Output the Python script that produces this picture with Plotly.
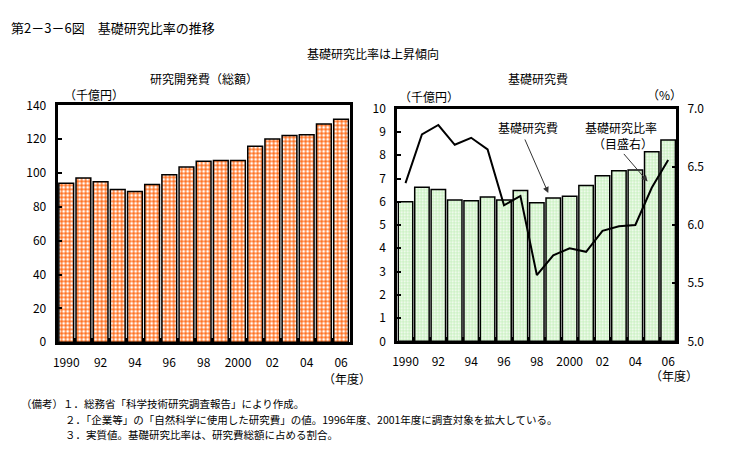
import plotly.graph_objects as go

years = list(range(1990, 2007))
year_labels = ["1990", "92", "94", "96", "98", "2000", "02", "04", "06"]
year_label_vals = list(range(1990, 2007, 2))

rd_total = [93.9, 97.1, 94.8, 90.3, 89.1, 93.3, 99.0, 103.6, 107.0, 107.4, 107.4,
            115.9, 120.1, 122.2, 122.7, 129.0, 131.8]
basic_rd = [6.00, 6.62, 6.53, 6.08, 6.04, 6.20, 6.08, 6.48, 5.96, 6.16, 6.24,
            6.70, 7.12, 7.33, 7.37, 8.15, 8.66]
basic_ratio = [6.36, 6.78, 6.86, 6.69, 6.75, 6.65, 6.17, 6.25, 5.57, 5.74, 5.80,
               5.77, 5.95, 5.99, 6.00, 6.32, 6.56]

FONT = "Noto Sans CJK JP"
W, H = 731, 461

def px(x):
    return x / W

def py(y):
    return 1 - y / H

fig = go.Figure()

fig.add_trace(go.Bar(
    x=years, y=rd_total, width=0.86, xaxis="x", yaxis="y",
    marker=dict(color="#ff7a2a", line=dict(color="black", width=1.5),
                pattern=dict(shape=".", fgcolor="#ffffff", bgcolor="#ff7020",
                             size=4, solidity=0.45, fillmode="replace")),
    showlegend=False,
))

fig.add_trace(go.Bar(
    x=years, y=basic_rd, width=0.88, xaxis="x2", yaxis="y2",
    marker=dict(color="#d2f5cc", line=dict(color="black", width=1.5),
                pattern=dict(shape=".", fgcolor="#ffffff", bgcolor="#ccf2c4",
                             size=3, solidity=0.3, fillmode="replace")),
    showlegend=False,
))

fig.add_trace(go.Scatter(
    x=years, y=basic_ratio, xaxis="x2", yaxis="y3", mode="lines",
    line=dict(color="black", width=2), showlegend=False,
))

axis_common = dict(showline=True, linecolor="black", linewidth=3, mirror=True,
                   showgrid=False, zeroline=False,
                   tickfont=dict(family=FONT, size=12, color="black"))

xcommon = dict(axis_common, range=[1989.5, 2006.5], tickmode="array",
               tickvals=year_label_vals, ticktext=year_labels, ticks="",
               ticklabelstandoff=7,
               minor=dict(tickmode="array",
                          tickvals=[y + 0.5 for y in years[:-1]],
                          ticks="inside", ticklen=4, tickcolor="black", tickwidth=1.5))

fig.update_layout(
    width=W, height=H, margin=dict(l=0, r=0, t=0, b=0),
    paper_bgcolor="white", plot_bgcolor="white", barmode="overlay",
    xaxis=dict(xcommon, domain=[px(53), px(347)], anchor="y"),
    yaxis=dict(axis_common, domain=[py(345), py(99)], range=[0, 140], dtick=20,
               ticks="inside", ticklen=4, tickwidth=1.5, tickcolor="black",
               ticklabelstandoff=6, anchor="x"),
    xaxis2=dict(xcommon, domain=[px(395), px(676)], anchor="y2"),
    yaxis2=dict(axis_common, domain=[py(344), py(102.5)], range=[0, 10], dtick=1,
                ticks="inside", ticklen=4, tickwidth=1.5, tickcolor="black",
                ticklabelstandoff=6, anchor="x2"),
    yaxis3=dict(range=[5, 7], dtick=0.5, tickformat=".1f", overlaying="y2",
                side="right", anchor="x2", showgrid=False, zeroline=False,
                ticks="inside", ticklen=4, tickwidth=1.5, tickcolor="black",
                showline=False, ticklabelstandoff=10,
                tickfont=dict(family=FONT, size=12, color="black")),
)

def txt(x, y, s, size=12, xanchor="center", yanchor="middle"):
    fig.add_annotation(x=px(x), y=py(y), xref="paper", yref="paper", text=s,
                       showarrow=False, xanchor=xanchor, yanchor=yanchor,
                       align="left", borderpad=0,
                       font=dict(family=FONT, size=size, color="black"))

txt(5, 18, "第2－3－6図　基礎研究比率の推移", 13, "left")
txt(371, 45, "基礎研究比率は上昇傾向", 12)
txt(200, 71, "研究開発費（総額）", 12)
txt(537, 71, "基礎研究費", 12)
txt(90, 88, "（千億円）", 12)
txt(427, 90, "（千億円）", 12)
txt(664, 88, "（%）", 12)
txt(344, 383, "（年度）", 12)
txt(674, 380, "（年度）", 12)
txt(527, 122, "基礎研究費", 12)
txt(620, 122, "基礎研究比率", 12)
txt(622, 139, "（目盛右）", 12)

fig.add_annotation(x=px(547), y=py(190), xref="paper", yref="paper", text="",
                   showarrow=True, ax=-24, ay=-55, arrowhead=2, arrowsize=1.2,
                   arrowwidth=1, arrowcolor="#333333")
fig.add_annotation(x=px(647), y=py(178), xref="paper", yref="paper", text="",
                   showarrow=True, ax=-25, ay=-29, arrowhead=2, arrowsize=1.2,
                   arrowwidth=1, arrowcolor="#333333")

txt(15, 409, "（備考）１．総務省「科学技術研究調査報告」により作成。", 10.5, "left")
txt(59, 425, "２．「企業等」の「自然科学に使用した研究費」の値。1996年度、2001年度に調査対象を拡大している。", 10.5, "left")
txt(59, 441, "３．実質値。基礎研究比率は、研究費総額に占める割合。", 10.5, "left")

fig.write_html("out.html")
